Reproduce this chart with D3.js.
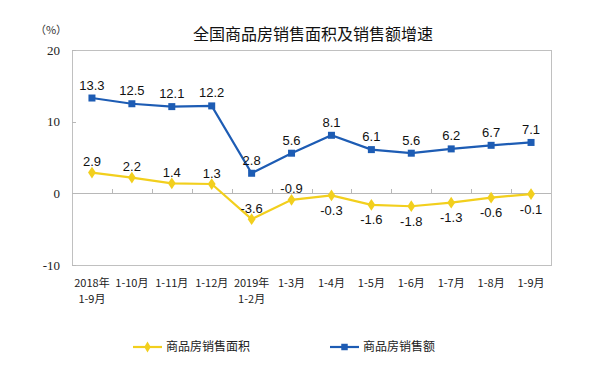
<!DOCTYPE html>
<html>
<head>
<meta charset="utf-8">
<script src="https://cdn.jsdelivr.net/npm/d3@7"></script>
<style>
  body { margin: 0; background: #fff; }
  svg { display: block; }
</style>
</head>
<body>
<div class="chart"></div>
<script>
const categories = [
  ['2018年', '1-9月'], ['1-10月'], ['1-11月'], ['1-12月'], ['2019年', '1-2月'],
  ['1-3月'], ['1-4月'], ['1-5月'], ['1-6月'], ['1-7月'], ['1-8月'], ['1-9月']
];
const areaGrowth = [2.9, 2.2, 1.4, 1.3, -3.6, -0.9, -0.3, -1.6, -1.8, -1.3, -0.6, -0.1];
const salesGrowth = [13.3, 12.5, 12.1, 12.2, 2.8, 5.6, 8.1, 6.1, 5.6, 6.2, 6.7, 7.1];
const yTicks = [-10, 0, 10, 20];
// which area labels sit above the point
const areaAbove = [true, true, true, true, true, true, false, false, false, false, false, false];

const W = 611, H = 375;
const plotL = 72, plotR = 551, plotT = 50, plotB = 265;
const yellow = '#f2cf1d', blue = '#1d5cb4';
const cjk = '"Noto Sans CJK SC", sans-serif';

const svg = d3.select('.chart').append('svg')
  .attr('width', W).attr('height', H);

const x = d3.scaleBand().domain(d3.range(categories.length)).range([plotL, plotR]);
const y = d3.scaleLinear().domain([-10, 20]).range([plotB, plotT]);
const cx = i => x(i) + x.bandwidth() / 2;

// plot frame
svg.append('rect')
  .attr('x', plotL + 0.5).attr('y', plotT + 0.5)
  .attr('width', plotR - plotL).attr('height', plotB - plotT)
  .attr('fill', 'none').attr('stroke', '#c0c0c0').attr('stroke-width', 1);

// zero line with category ticks
svg.append('line')
  .attr('x1', plotL).attr('x2', plotR)
  .attr('y1', Math.round(y(0)) + 0.5).attr('y2', Math.round(y(0)) + 0.5)
  .attr('stroke', '#b8b8b8');
svg.selectAll('line.cat-tick')
  .data(d3.range(1, categories.length))
  .enter().append('line')
  .attr('class', 'cat-tick')
  .attr('x1', i => Math.round(x(i)) + 0.5).attr('x2', i => Math.round(x(i)) + 0.5)
  .attr('y1', Math.round(y(0))).attr('y2', Math.round(y(0)) - 4)
  .attr('stroke', '#b8b8b8');

// y ticks
svg.selectAll('line.y-tick')
  .data(yTicks)
  .enter().append('line')
  .attr('class', 'y-tick')
  .attr('x1', plotL).attr('x2', plotL + 4)
  .attr('y1', d => Math.round(y(d)) + 0.5).attr('y2', d => Math.round(y(d)) + 0.5)
  .attr('stroke', '#b8b8b8');
svg.selectAll('text.y-label')
  .data(yTicks)
  .enter().append('text')
  .attr('class', 'y-label')
  .attr('x', 60).attr('y', d => y(d))
  .attr('dy', '0.35em')
  .attr('text-anchor', 'end')
  .attr('font-family', '"Liberation Serif", serif')
  .attr('font-size', 13)
  .attr('fill', '#222')
  .text(d => d);

svg.append('text')
  .attr('x', 51).attr('y', 30).attr('dy', '0.35em')
  .attr('text-anchor', 'middle')
  .attr('font-family', cjk).attr('font-size', 11).attr('fill', '#333')
  .text('（%）');

// title
svg.append('text')
  .attr('x', 313).attr('y', 34).attr('dy', '0.35em')
  .attr('text-anchor', 'middle')
  .attr('font-family', cjk).attr('font-size', 16).attr('fill', '#111')
  .text('全国商品房销售面积及销售额增速');

// x labels
const xl = svg.selectAll('text.x-label')
  .data(categories)
  .enter().append('text')
  .attr('class', 'x-label')
  .attr('x', (d, i) => cx(i))
  .attr('y', 283)
  .attr('text-anchor', 'middle')
  .attr('font-family', cjk).attr('font-size', 11).attr('fill', '#222');
xl.selectAll('tspan')
  .data(d => d)
  .enter().append('tspan')
  .attr('x', function () { return d3.select(this.parentNode).attr('x'); })
  .attr('dy', (d, i) => i === 0 ? '0.35em' : '16px')
  .text(d => d);

// lines
const line = d3.line().x((d, i) => cx(i)).y(d => y(d));

svg.append('path')
  .datum(areaGrowth)
  .attr('d', line)
  .attr('fill', 'none').attr('stroke', yellow).attr('stroke-width', 2.2);
svg.append('path')
  .datum(salesGrowth)
  .attr('d', line)
  .attr('fill', 'none').attr('stroke', blue).attr('stroke-width', 2.2);

const diamond = d3.symbol().type(d3.symbolDiamond).size(40);
svg.selectAll('path.area-pt')
  .data(areaGrowth)
  .enter().append('path')
  .attr('class', 'area-pt')
  .attr('d', diamond)
  .attr('transform', (d, i) => `translate(${cx(i)},${y(d)}) scale(1.15,1)`)
  .attr('fill', yellow);

svg.selectAll('rect.sales-pt')
  .data(salesGrowth)
  .enter().append('rect')
  .attr('class', 'sales-pt')
  .attr('x', (d, i) => cx(i) - 3.5).attr('y', d => y(d) - 3.5)
  .attr('width', 7).attr('height', 7)
  .attr('fill', blue);

// data labels
const labelFont = '"Liberation Sans", Arial, sans-serif';
svg.selectAll('text.sales-lbl')
  .data(salesGrowth)
  .enter().append('text')
  .attr('class', 'sales-lbl')
  .attr('x', (d, i) => cx(i))
  .attr('y', d => y(d) - 13)
  .attr('dy', '0.35em')
  .attr('text-anchor', 'middle')
  .attr('font-family', labelFont).attr('font-size', 13).attr('fill', '#111')
  .text(d => d.toFixed(1));

svg.selectAll('text.area-lbl')
  .data(areaGrowth)
  .enter().append('text')
  .attr('class', 'area-lbl')
  .attr('x', (d, i) => cx(i))
  .attr('y', (d, i) => areaAbove[i] ? y(d) - 11 : y(d) + 15)
  .attr('dy', '0.35em')
  .attr('text-anchor', 'middle')
  .attr('font-family', labelFont).attr('font-size', 13).attr('fill', '#111')
  .text(d => d.toFixed(1));

// legend
const legend = [
  { name: '商品房销售面积', color: yellow, kind: 'diamond', x: 133 },
  { name: '商品房销售额', color: blue, kind: 'square', x: 330 }
];
const lg = svg.selectAll('g.legend')
  .data(legend)
  .enter().append('g')
  .attr('class', 'legend')
  .attr('transform', d => `translate(${d.x},347)`);
lg.append('line')
  .attr('x1', 0).attr('x2', 29)
  .attr('stroke', d => d.color).attr('stroke-width', 2.2);
lg.append('path')
  .attr('d', d => d.kind === 'diamond'
    ? d3.symbol().type(d3.symbolDiamond).size(36)()
    : d3.symbol().type(d3.symbolSquare).size(42)())
  .attr('transform', 'translate(14.5,0)')
  .attr('fill', d => d.color);
lg.append('text')
  .attr('x', 33).attr('dy', '0.35em')
  .attr('font-family', cjk).attr('font-size', 12).attr('fill', '#222')
  .text(d => d.name);
</script>
</body>
</html>
